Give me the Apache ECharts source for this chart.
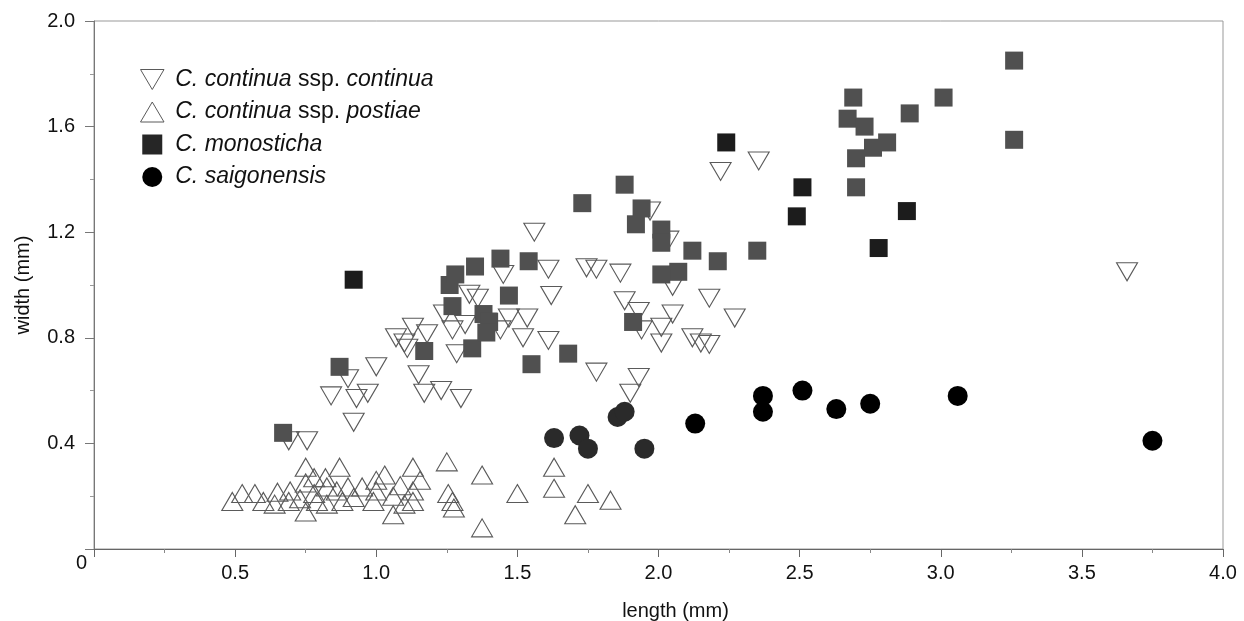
<!DOCTYPE html>
<html>
<head>
<meta charset="utf-8">
<title>width vs length</title>
<script src="https://cdn.jsdelivr.net/npm/echarts@6/dist/echarts.min.js"></script>
<style>
  html, body { margin: 0; padding: 0; background: #fff; }
  #chart { width: 1244px; height: 621px; }
</style>
</head>
<body>
<div id="chart"></div>
<script>
// data: [length, width] in mm
const continua = [
  [0.69, 0.41], [0.755, 0.41], [0.84, 0.58], [0.90, 0.645], [0.92, 0.48],
  [0.93, 0.57], [0.97, 0.59], [1.00, 0.69], [1.07, 0.80], [1.10, 0.78],
  [1.11, 0.76], [1.13, 0.84], [1.15, 0.66], [1.17, 0.59], [1.18, 0.815],
  [1.23, 0.60], [1.24, 0.89], [1.27, 0.83], [1.285, 0.74], [1.30, 0.57],
  [1.315, 0.85], [1.33, 0.965], [1.36, 0.95], [1.39, 0.86], [1.44, 0.83],
  [1.45, 1.04], [1.47, 0.875], [1.535, 0.875], [1.52, 0.80], [1.56, 1.20],
  [1.61, 1.06], [1.62, 0.96], [1.61, 0.79], [1.745, 1.065], [1.78, 1.06],
  [1.78, 0.67], [1.865, 1.045], [1.88, 0.94], [1.90, 0.59], [1.93, 0.65],
  [1.93, 0.90], [1.94, 0.83], [1.97, 1.28], [2.01, 0.84], [2.01, 0.78],
  [2.035, 1.17], [2.05, 0.995], [2.05, 0.89], [2.12, 0.80], [2.15, 0.78],
  [2.18, 0.775], [2.18, 0.95], [2.22, 1.43], [2.27, 0.875], [2.355, 1.47],
  [3.66, 1.05]
];
const postiae = [
  [0.49, 0.18], [0.525, 0.21], [0.57, 0.21], [0.60, 0.18], [0.65, 0.215],
  [0.64, 0.17], [0.695, 0.22], [0.69, 0.18], [0.73, 0.19], [0.75, 0.25],
  [0.75, 0.31], [0.75, 0.14], [0.78, 0.21], [0.78, 0.27], [0.79, 0.18],
  [0.82, 0.27], [0.825, 0.235], [0.825, 0.17], [0.87, 0.31], [0.86, 0.22],
  [0.88, 0.18], [0.90, 0.235], [0.92, 0.195], [0.95, 0.235], [0.99, 0.18],
  [1.00, 0.26], [1.00, 0.22], [1.03, 0.28], [1.06, 0.20], [1.06, 0.13],
  [1.085, 0.24], [1.10, 0.17], [1.13, 0.31], [1.13, 0.22], [1.13, 0.18],
  [1.155, 0.26], [1.25, 0.33], [1.255, 0.21], [1.27, 0.18], [1.275, 0.155],
  [1.375, 0.28], [1.375, 0.08], [1.50, 0.21], [1.63, 0.31], [1.63, 0.23],
  [1.75, 0.21], [1.83, 0.185], [1.705, 0.13]
];
const monostichaGray = [
  [0.67, 0.44], [0.87, 0.69], [1.17, 0.75], [1.26, 1.00], [1.28, 1.04],
  [1.35, 1.07], [1.27, 0.92], [1.34, 0.76], [1.38, 0.89], [1.40, 0.86],
  [1.39, 0.82], [1.44, 1.10], [1.47, 0.96], [1.54, 1.09], [1.55, 0.70],
  [1.68, 0.74], [1.73, 1.31], [1.88, 1.38], [1.92, 1.23], [1.94, 1.29],
  [1.91, 0.86], [2.01, 1.21], [2.01, 1.16], [2.07, 1.05], [2.01, 1.04],
  [2.12, 1.13], [2.21, 1.09], [2.35, 1.13], [2.69, 1.71], [2.67, 1.63],
  [2.73, 1.60], [2.76, 1.52], [2.81, 1.54], [2.70, 1.48], [2.70, 1.37],
  [2.89, 1.65], [3.01, 1.71], [3.26, 1.85], [3.26, 1.55]
];
const monostichaBlack = [
  [0.92, 1.02], [2.24, 1.54], [2.51, 1.37], [2.49, 1.26], [2.88, 1.28], [2.78, 1.14]
];
const saigonensisGray = [
  [1.63, 0.42], [1.72, 0.43], [1.75, 0.38], [1.855, 0.50], [1.88, 0.52], [1.95, 0.38]
];
const saigonensisBlack = [
  [2.13, 0.475], [2.37, 0.58], [2.37, 0.52], [2.51, 0.60], [2.63, 0.53],
  [2.75, 0.55], [3.06, 0.58], [3.75, 0.41]
];
const seriesNames = [
  'C. continua ssp. continua',
  'C. continua ssp. postiae',
  'C. monosticha',
  'C. saigonensis'
];
const legendLabels = [
  '{i|C. continua} ssp. {i|continua}',
  '{i|C. continua} ssp. {i|postiae}',
  '{i|C. monosticha}',
  '{i|C. saigonensis}'
];

const font = "'Liberation Sans', Arial, Helvetica, sans-serif";
const downTri = 'path://M0,0L20,0L10,17Z';
const upTri = 'path://M10,0L20,17L0,17Z';
const squareIcon = 'path://M0,0L17,0L17,17L0,17Z';
const circleIcon = 'path://M10,0A10,10,0,1,1,10,20A10,10,0,1,1,10,0Z';

const chart = echarts.init(document.getElementById('chart'));
const option = {
  animation: false,
  backgroundColor: '#fff',
  textStyle: { fontFamily: font },
  grid: {
    left: 94, right: 21, top: 21, bottom: 72,
    outerBoundsMode: 'none',
    show: true, borderColor: '#999', borderWidth: 1
  },
  legend: {
    orient: 'vertical',
    left: 135,
    top: 63,
    itemWidth: 36,
    itemHeight: 20,
    itemGap: 9.5,
    data: [
      { name: seriesNames[0], icon: downTri, itemStyle: { borderWidth: 1 } },
      { name: seriesNames[1], icon: upTri, itemStyle: { borderWidth: 1 } },
      { name: seriesNames[2], icon: squareIcon, itemStyle: { color: '#262626' } },
      { name: seriesNames[3], icon: circleIcon, itemStyle: { color: '#000' } }
    ],
    formatter: function (name) {
      return legendLabels[seriesNames.indexOf(name)];
    },
    textStyle: {
      fontSize: 23,
      color: '#111',
      fontFamily: font,
      rich: {
        i: { fontStyle: 'italic', fontSize: 23, fontFamily: font, color: '#111' }
      }
    }
  },
  xAxis: {
    type: 'value',
    min: 0,
    max: 4,
    interval: 0.5,
    name: 'length (mm)',
    nameLocation: 'middle',
    nameGap: 52,
    nameTextStyle: { fontSize: 20, color: '#111', padding: [0, 0, 0, 34] },
    splitLine: { show: false },
    axisLine: { lineStyle: { color: '#666', width: 1.2 } },
    axisTick: { length: 8, lineStyle: { color: '#666' } },
    minorTick: { show: true, splitNumber: 2, length: 4, lineStyle: { color: '#888' } },
    axisLabel: {
      fontSize: 20,
      color: '#111',
      margin: 14,
      formatter: function (v) { return v === 0 ? '' : v.toFixed(1); }
    }
  },
  yAxis: {
    type: 'value',
    min: 0,
    max: 2,
    interval: 0.4,
    name: 'width (mm)',
    nameLocation: 'middle',
    nameGap: 61,
    nameTextStyle: { fontSize: 20, color: '#111' },
    splitLine: { show: false },
    axisLine: { lineStyle: { color: '#777', width: 1 } },
    axisTick: { length: 9, lineStyle: { color: '#777' } },
    minorTick: { show: true, splitNumber: 2, length: 4, lineStyle: { color: '#999' } },
    axisLabel: {
      fontSize: 20,
      color: '#111',
      margin: 7,
      formatter: function (v) { return v === 0 ? '{z|0}' : '{n|' + v.toFixed(1) + '}'; },
      rich: {
        z: { fontSize: 20, color: '#111', padding: [28, 0, 0, 0] },
        n: { fontSize: 20, color: '#111', padding: [0, 12, 0, 0] }
      }
    }
  },
  series: [
    {
      name: seriesNames[0],
      type: 'scatter',
      symbol: downTri,
      symbolSize: [21, 18],
      itemStyle: { color: 'rgba(255,255,255,0)', borderColor: '#5a5a5a', borderWidth: 1.1, opacity: 1 },
      data: continua
    },
    {
      name: seriesNames[1],
      type: 'scatter',
      symbol: upTri,
      symbolSize: [21, 18],
      itemStyle: { color: 'rgba(255,255,255,0)', borderColor: '#5a5a5a', borderWidth: 1.1, opacity: 1 },
      data: postiae
    },
    {
      name: seriesNames[2],
      type: 'scatter',
      symbol: 'rect',
      symbolSize: 18,
      itemStyle: { color: '#505050', opacity: 1 },
      data: monostichaGray.map(function (p) { return { value: p }; })
        .concat(monostichaBlack.map(function (p) {
          return { value: p, itemStyle: { color: '#1c1c1c' } };
        }))
    },
    {
      name: seriesNames[3],
      type: 'scatter',
      symbol: 'circle',
      symbolSize: 20,
      itemStyle: { color: '#000', opacity: 1 },
      data: saigonensisGray.map(function (p) {
        return { value: p, itemStyle: { color: '#2a2a2a' } };
      }).concat(saigonensisBlack.map(function (p) { return { value: p }; }))
    }
  ]
};
chart.setOption(option);
</script>
</body>
</html>
